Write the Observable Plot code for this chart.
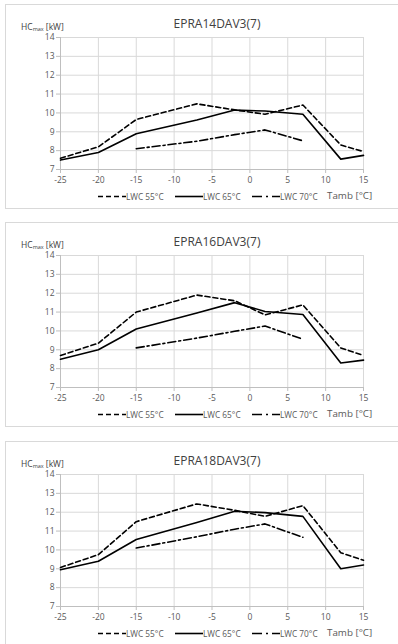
<!DOCTYPE html>
<html>
<head>
<meta charset="utf-8">
<script src="https://cdn.jsdelivr.net/npm/d3@7"></script>
<script src="https://cdn.jsdelivr.net/npm/@observablehq/plot@0.6"></script>
<style>
  html, body { margin: 0; padding: 0; background: #fff; }
  body { width: 398px; height: 644px; position: relative; overflow: hidden; font-family: "Open Sans", sans-serif; }
  .panel { position: absolute; left: 5px; width: 396px; height: 205px; border: 1px solid #d9d9d9; box-sizing: border-box; }
  .panel svg.chart { position: absolute; left: 0; top: 0; }
  .title { position: absolute; top: 10px; left: 0; width: 422px; text-align: center; font-size: 12px; color: #404040; }
  .ylab { position: absolute; left: 15px; top: 16px; font-size: 8.5px; color: #404040; white-space: nowrap; }
  .ylab sub { font-size: 5.5px; vertical-align: -1px; }
  .legend { position: absolute; top: 185px; left: 0; width: 396px; height: 14px; font-size: 8.3px; color: #595959; }
  .legend .item { position: absolute; top: 0; display: flex; align-items: center; white-space: nowrap; }
  .legend .tamb { position: absolute; top: -1px; left: 321px; font-size: 9.8px; color: #595959; }
</style>
</head>
<body>
<script>
const models = ["EPRA14DAV3(7)", "EPRA16DAV3(7)", "EPRA18DAV3(7)"];
const tamb = [-25, -20, -15, -7, -2, 2, 7, 12, 15];
const tamb70 = [-15, -7, -2, 2, 7];
const lwc55 = [
  [7.6, 8.2, 9.65, 10.48, 10.16, 9.93, 10.42, 8.3, 7.95],
  [8.7, 9.35, 11.0, 11.9, 11.6, 10.85, 11.38, 9.1, 8.7],
  [9.07, 9.75, 11.5, 12.44, 12.1, 11.78, 12.35, 9.85, 9.45]
];
const lwc65 = [
  [7.5, 7.9, 8.9, 9.62, 10.15, 10.1, 9.93, 7.55, 7.75],
  [8.5, 9.0, 10.1, 10.95, 11.5, 11.03, 10.87, 8.3, 8.45],
  [8.95, 9.4, 10.55, 11.45, 12.05, 11.98, 11.78, 9.0, 9.2]
];
const lwc70 = [
  [8.1, 8.5, 8.85, 9.1, 8.52],
  [9.1, 9.62, 9.98, 10.26, 9.56],
  [10.1, 10.7, 11.1, 11.38, 10.67]
];
const seriesNames = ["LWC 55°C", "LWC 65°C", "LWC 70°C"];
const xTicks = [-25, -20, -15, -10, -5, 0, 5, 10, 15];
const yTicks = [7, 8, 9, 10, 11, 12, 13, 14];
const panelTops = [4, 222, 441];

const dashes = ["5,3", null, "8,3,2,3"];

models.forEach((model, i) => {
  const panel = document.createElement("div");
  panel.className = "panel";
  panel.style.top = panelTops[i] + "px";
  document.body.appendChild(panel);

  const d55 = tamb.map((t, j) => ({t, v: lwc55[i][j]}));
  const d65 = tamb.map((t, j) => ({t, v: lwc65[i][j]}));
  const d70 = tamb70.map((t, j) => ({t, v: lwc70[i][j]}));

  const chart = Plot.plot({
    width: 393,
    height: 204,
    marginLeft: 54,
    marginRight: 36,
    marginTop: 32,
    marginBottom: 40,
    style: {fontFamily: "Open Sans, sans-serif", fontSize: "8.5px", color: "#595959", background: "transparent", overflow: "visible"},
    x: {domain: [-25, 15]},
    y: {domain: [7, 14]},
    marks: [
      Plot.gridX(xTicks, {stroke: "#d9d9d9", strokeOpacity: 1}),
      Plot.gridY(yTicks, {stroke: "#d9d9d9", strokeOpacity: 1}),
      Plot.ruleX([-25], {stroke: "#bfbfbf"}),
      Plot.ruleY([7], {stroke: "#bfbfbf"}),
      Plot.axisX(xTicks, {tickSize: 4, tickPadding: 3, stroke: "#bfbfbf", fill: "#595959", tickFormat: d => String(d), label: null}),
      Plot.axisY(yTicks, {tickSize: 4, tickPadding: 2, stroke: "#bfbfbf", fill: "#595959", tickFormat: d => String(d), label: null}),
      Plot.line(d55, {x: "t", y: "v", stroke: "#000", strokeWidth: 1.6, strokeDasharray: dashes[0]}),
      Plot.line(d65, {x: "t", y: "v", stroke: "#000", strokeWidth: 1.6}),
      Plot.line(d70, {x: "t", y: "v", stroke: "#000", strokeWidth: 1.6, strokeDasharray: dashes[2]})
    ]
  });
  chart.classList.add("chart");
  panel.appendChild(chart);

  const title = document.createElement("div");
  title.className = "title";
  title.textContent = model;
  panel.appendChild(title);

  const ylab = document.createElement("div");
  ylab.className = "ylab";
  ylab.innerHTML = "HC<sub>max</sub> [kW]";
  panel.appendChild(ylab);

  const legend = document.createElement("div");
  legend.className = "legend";
  const lefts = [92, 169, 246];
  seriesNames.forEach((name, k) => {
    const item = document.createElement("div");
    item.className = "item";
    item.style.left = lefts[k] + "px";
    const sw = d3.create("svg").attr("width", 28).attr("height", 12);
    sw.append("line").attr("x1", 0).attr("x2", 28).attr("y1", 6.5).attr("y2", 6.5)
      .attr("stroke", "#000").attr("stroke-width", 1.6)
      .attr("stroke-dasharray", dashes[k] ? (k === 0 ? "5,3" : "10,4,2,4") : null);
    item.appendChild(sw.node());
    const span = document.createElement("span");
    span.textContent = name;
    item.appendChild(span);
    legend.appendChild(item);
  });
  const tl = document.createElement("div");
  tl.className = "tamb";
  tl.textContent = "Tamb [°C]";
  legend.appendChild(tl);
  panel.appendChild(legend);
});
</script>
</body>
</html>
